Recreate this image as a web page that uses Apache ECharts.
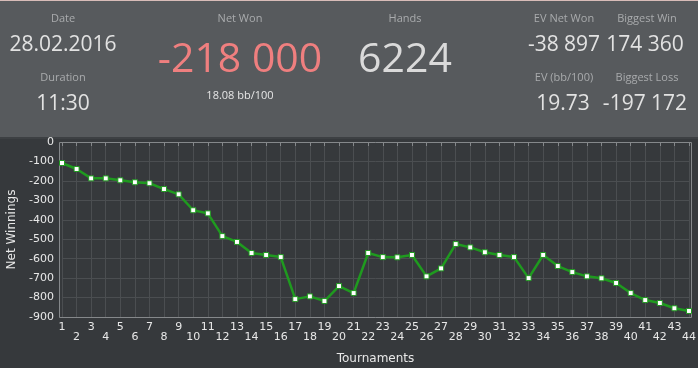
<!DOCTYPE html>
<html><head><meta charset="utf-8">
<script src="https://cdn.jsdelivr.net/npm/echarts@6/dist/echarts.min.js"></script>
<style>html,body{margin:0;padding:0;background:#36393c;}#c{width:698px;height:368px;}</style>
</head><body><div id="c"></div>
<script>
const tournaments = ['1','2','3','4','5','6','7','8','9','10','11','12','13','14','15','16','17','18','19','20','21','22','23','24','25','26','27','28','29','30','31','32','33','34','35','36','37','38','39','40','41','42','43','44'];
const netWinnings = [-108,-139,-187,-187,-197,-207,-212,-242,-269,-351,-367,-484,-514,-571,-581,-592,-808,-794,-818,-741,-777,-571,-592,-593,-581,-691,-650,-525,-542,-567,-581,-592,-700,-581,-638,-669,-691,-701,-725,-777,-813,-828,-855,-869];
const yTicks = [0,-100,-200,-300,-400,-500,-600,-700,-800,-900];
const statLabels = ['Date','Duration','Net Won','Hands','EV Net Won','Biggest Win','EV (bb/100)','Biggest Loss'];
const statValues = ['28.02.2016','11:30','-218 000','6224','-38 897','174 360','19.73','-197 172'];
const netBb = '18.08 bb/100';

const chart = echarts.init(document.getElementById('c'));
const FONT = '"Open Sans", "Noto Sans", sans-serif';
function lbl(text, x, y){ return {type:'text', x:x, y:y, style:{text:text, fill:'#a9abad', font:'11px '+FONT, align:'center', verticalAlign:'middle'}}; }
function val(text, x, y, size, color){ return {type:'text', x:x, y:y, style:{text:text, fill:color||'#e2e2e2', font:size+'px '+FONT, align:'center', verticalAlign:'middle'}}; }

chart.setOption({
  backgroundColor:'#36393c',
  animation:false,
  graphic:[
    {type:'rect', shape:{x:0,y:0,width:698,height:137}, style:{fill:'#575a5d'}, z:-10},
    {type:'rect', shape:{x:0,y:0,width:698,height:1}, style:{fill:'#d8bcb8'}, z:-9},
    {type:'rect', shape:{x:0,y:137,width:698,height:2}, style:{fill:'#3d4043'}, z:-9},
    {type:'rect', shape:{x:59.5,y:142.5,width:632,height:175}, style:{fill:'none', stroke:'#85888b', lineWidth:1}, z:5},
    lbl(statLabels[0], 63, 19), val(statValues[0], 63, 45, 21),
    lbl(statLabels[1], 63, 78), val(statValues[1], 63, 104, 21),
    lbl(statLabels[2], 240, 19), val(statValues[2], 240, 60, 41, '#ef7f7f'),
    {type:'text', x:240, y:96, style:{text:netBb, fill:'#e6e6e6', font:'11px '+FONT, align:'center', verticalAlign:'middle'}},
    lbl(statLabels[3], 405, 19), val(statValues[3], 405, 60, 41, '#dadada'),
    lbl(statLabels[4], 564, 19), val(statValues[4], 564, 45, 21),
    lbl(statLabels[5], 647, 19), val(statValues[5], 645, 45, 21),
    lbl(statLabels[6], 564, 78), val(statValues[6], 563, 104, 21),
    lbl(statLabels[7], 647, 78), val(statValues[7], 645, 104, 21)
  ],
  grid:{left:62, right:9, top:142, bottom:51, show:false, containLabel:false, outerBoundsMode:'none'},
  xAxis:{
    type:'category', data:tournaments, boundaryGap:false,
    name:'Tournaments', nameLocation:'middle', nameGap:36,
    nameTextStyle:{color:'#e8e8e8', fontSize:12, fontFamily:'DejaVu Sans'},
    axisLine:{show:false},
    axisTick:{show:true, length:4, interval:0, lineStyle:{color:'#85888b'}},
    axisLabel:{color:'#e8e8e8', fontSize:11, fontFamily:'DejaVu Sans', margin:5, lineHeight:10, interval:0, hideOverlap:false,
      formatter:function(v){ return (Number(v) % 2 === 0) ? '\n' + v : v; }},
    splitLine:{show:true, interval:0, lineStyle:{color:'#4b4e51', width:1}}
  },
  yAxis:{
    type:'value', min:-900, max:0, interval:100,
    name:'Net Winnings', nameLocation:'middle', nameGap:43,
    nameTextStyle:{color:'#e8e8e8', fontSize:12, fontFamily:'DejaVu Sans'},
    axisLine:{show:false},
    axisTick:{show:false},
    axisLabel:{color:'#e8e8e8', fontSize:11, fontFamily:'DejaVu Sans', margin:8},
    splitLine:{show:true, lineStyle:{color:'#4b4e51', width:1}}
  },
  series:[{
    type:'line',
    data: netWinnings,
    lineStyle:{color:'#1f9a1f', width:2.5},
    symbol:'rect', symbolSize:5, showSymbol:true,
    itemStyle:{color:'#ffffff', borderColor:'#1f9a1f', borderWidth:1},
    z:6
  }]
});
</script></body></html>
